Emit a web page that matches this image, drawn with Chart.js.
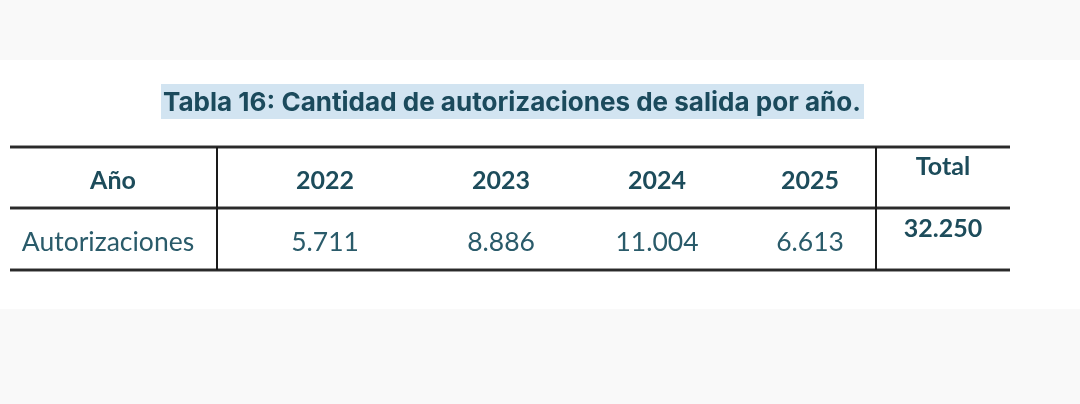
<!DOCTYPE html>
<html>
<head>
<meta charset="utf-8">
<script src="https://cdn.jsdelivr.net/npm/chart.js@4"></script>
<style>
  html, body { margin: 0; padding: 0; background: #f9f9f9; }
  #tabla { display: block; }
</style>
</head>
<body>
<canvas id="tabla" width="1080" height="404"></canvas>
<script>
const titulo = "Tabla 16: Cantidad de autorizaciones de salida por año.";
const cabeceraFila = "Año";
const etiquetaFila = "Autorizaciones";
const anios = ["2022", "2023", "2024", "2025"];
const autorizaciones = [5711, 8886, 11004, 6613];
const cabeceraTotal = "Total";
const total = 32250;

// columnas de la tabla (centro de cada celda, en px)
const colX = [113, 325, 501, 657, 810, 943];

// formato 5.711
function formatNum(n) {
    return String(n).replace(/\B(?=(\d{3})+(?!\d))/g, ".");
}

// dibuja texto ajustado a un ancho dado (escala horizontal)
function fitText(ctx, text, cx, y, font, width) {
    ctx.save();
    ctx.font = font;
    const w = ctx.measureText(text).width;
    const sx = width ? width / w : 1;
    ctx.translate(cx, y);
    ctx.scale(sx, 1);
    ctx.fillText(text, 0, 0);
    ctx.restore();
}

function linea(ctx, x1, y1, x2, y2, ancho, color) {
    ctx.beginPath();
    ctx.moveTo(x1, y1);
    ctx.lineTo(x2, y2);
    ctx.lineWidth = ancho;
    ctx.strokeStyle = color;
    ctx.stroke();
}

const tablaPlugin = {
    id: "tabla",
    beforeDraw(chart) {
        const ctx = chart.ctx;
        ctx.save();
        ctx.fillStyle = "#f9f9f9";
        ctx.fillRect(0, 0, chart.width, chart.height);
        ctx.fillStyle = "#ffffff";
        ctx.fillRect(0, 60, chart.width, 249);

        // titulo resaltado
        ctx.fillStyle = "#d2e4f1";
        ctx.fillRect(161, 84, 703, 35);
        ctx.fillStyle = "#1b4a5c";
        ctx.textAlign = "center";
        ctx.textBaseline = "alphabetic";
        fitText(ctx, titulo, 512, 111, "bold 26px Inter", 698);

        // lineas horizontales
        [147, 208, 270].forEach(y => {
            linea(ctx, 10, y, 1010, y, 4, "#9a9a9a");
            linea(ctx, 10, y, 1010, y, 2, "#2a2a2a");
        });
        // lineas verticales
        [217, 876].forEach(x => {
            linea(ctx, x, 147, x, 270, 2, "#1a1a1a");
        });

        // fila de cabecera
        ctx.textBaseline = "middle";
        ctx.fillStyle = "#1d4c5b";
        const cab = [cabeceraFila].concat(anios);
        cab.forEach((t, i) => fitText(ctx, t, colX[i], 181, "bold 25px Lato"));
        fitText(ctx, cabeceraTotal, colX[5], 167, "bold 25px Lato");

        // fila de datos
        ctx.fillStyle = "#2a5b6a";
        fitText(ctx, etiquetaFila, 108, 242, "26.5px Lato");
        autorizaciones.forEach((v, i) => fitText(ctx, formatNum(v), colX[i + 1], 242, "26.5px Lato"));
        ctx.fillStyle = "#1d4c5b";
        fitText(ctx, formatNum(total), colX[5], 229, "bold 25px Lato");
        ctx.restore();
    }
};

new Chart(document.getElementById("tabla"), {
    type: "bar",
    data: { labels: anios, datasets: [] },
    options: {
        responsive: false,
        animation: false,
        plugins: { legend: { display: false }, tooltip: { enabled: false } },
        scales: { x: { display: false }, y: { display: false } }
    },
    plugins: [tablaPlugin]
});
</script>
</body>
</html>
